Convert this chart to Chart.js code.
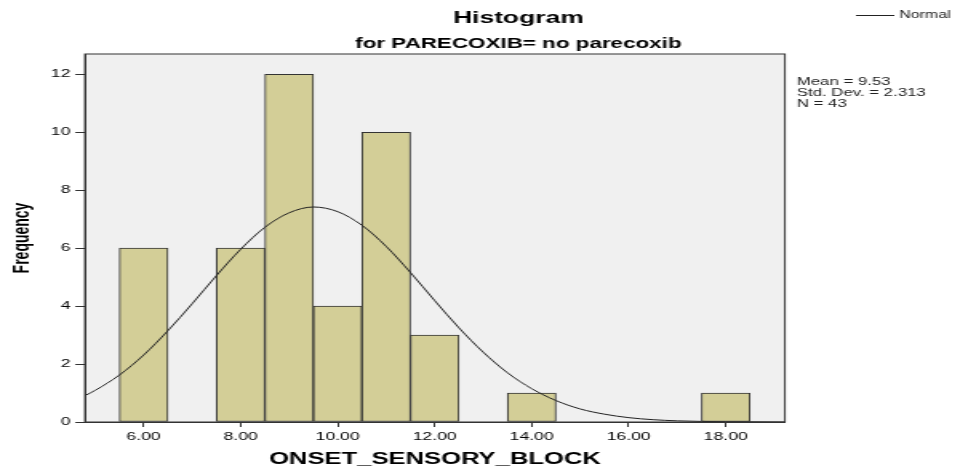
<!DOCTYPE html>
<html>
<head>
<meta charset="utf-8">
<script src="https://cdn.jsdelivr.net/npm/chart.js@4.4.1/dist/chart.umd.min.js"></script>
<style>
  html, body { margin: 0; padding: 0; background: #fff; overflow: hidden; }
  /* the original SPSS picture is stretched sideways, so draw narrow and stretch */
  #wrap { width: 600px; height: 473px; transform: scaleX(1.6); transform-origin: 0 0; }
</style>
</head>
<body>
<div id="wrap"><canvas id="histChart"></canvas></div>
<script>
// histogram bins (width 1), only the non-empty ones
const binCenters = [6, 8, 9, 10, 11, 12, 14, 18];
const binCounts = [6, 6, 12, 4, 10, 3, 1, 1];

// normal curve, values
const curveX = [4.79, 5, 5.5, 6, 6.5, 7, 7.5, 8, 8.5, 9, 9.5, 10, 10.5, 11, 11.5, 12, 12.5, 13, 13.5, 14, 14.5, 15, 15.5, 16, 16.5, 17, 17.5, 18, 19.22];
const curveY = [0.91, 1.09, 1.62, 2.31, 3.15, 4.08, 5.05, 5.96, 6.72, 7.22, 7.42, 7.26, 6.79, 6.06, 5.16, 4.19, 3.25, 2.41, 1.7, 1.15, 0.74, 0.45, 0.27, 0.15, 0.08, 0.04, 0.02, 0.01, 0];

const xTicks = [6, 8, 10, 12, 14, 16, 18];
const yTicks = [0, 2, 4, 6, 8, 10, 12];

const statLines = ["Mean = 9.53", "Std. Dev. = 2.313", "N = 43"];

const FONT = "'Liberation Sans', Arial, sans-serif";

const frame = {
  id: 'frame',
  beforeDraw(chart) {
    const { ctx, chartArea: a } = chart;
    ctx.save();
    ctx.fillStyle = '#f0f0f0';
    ctx.fillRect(a.left, a.top, a.right - a.left, a.bottom - a.top);
    ctx.restore();
  },
  afterDraw(chart) {
    const { ctx, chartArea: a } = chart;
    ctx.save();
    ctx.strokeStyle = '#333';
    ctx.lineWidth = 1;
    ctx.strokeRect(a.left, a.top, a.right - a.left, a.bottom - a.top);

    ctx.fillStyle = '#000';
    ctx.textAlign = 'center';
    ctx.textBaseline = 'alphabetic';
    ctx.font = "bold 16.5px " + FONT;
    ctx.fillText("Histogram", 324, 23);
    ctx.font = "bold 14px " + FONT;
    ctx.fillText("for PARECOXIB= no parecoxib", 324, 48);

    // legend
    ctx.strokeStyle = '#222';
    ctx.beginPath();
    ctx.moveTo(535, 15.5);
    ctx.lineTo(559, 15.5);
    ctx.stroke();
    ctx.textAlign = 'left';
    ctx.textBaseline = 'middle';
    ctx.font = "10px " + FONT;
    ctx.fillStyle = '#222';
    ctx.fillText("Normal", 562, 15.5);

    // stats box
    ctx.textBaseline = 'alphabetic';
    ctx.font = "10.5px " + FONT;
    statLines.forEach((t, i) => ctx.fillText(t, 498, 85 + i * 11));
    ctx.restore();
  }
};

const ctx = document.getElementById("histChart").getContext("2d");
new Chart(ctx, {
  type: "bar",
  data: {
    datasets: [
      {
        type: "line",
        label: "Normal",
        data: curveX.map((x, i) => ({ x: x, y: curveY[i] })),
        borderColor: "#222",
        borderWidth: 1,
        pointRadius: 0,
        fill: false,
        cubicInterpolationMode: "monotone",
        order: 0,
      },
      {
        type: "bar",
        label: "Frequency",
        data: binCenters.map((x, i) => ({ x: x, y: binCounts[i] })),
        backgroundColor: "#d3ce97",
        borderColor: "#333",
        borderWidth: 1,
        borderSkipped: false,
        barPercentage: 1,
        categoryPercentage: 1,
        order: 1,
      },
    ],
  },
  options: {
    responsive: true,
    maintainAspectRatio: false,
    animation: false,
    devicePixelRatio: 1,
    layout: { padding: { left: 0, right: 109.4, top: 54, bottom: 0 } },
    plugins: {
      legend: { display: false },
      tooltip: { enabled: false },
    },
    scales: {
      x: {
        type: "linear",
        min: 4.79,
        max: 19.22,
        offset: false,
        grid: { display: true, offset: false, drawOnChartArea: false, drawTicks: true, tickLength: 5, color: "#333" },
        border: { display: true, color: "#333", width: 1 },
        ticks: {
          color: "#000",
          font: { family: FONT, size: 11 },
          padding: 3,
          maxRotation: 0,
          callback: (v) => Number(v).toFixed(2),
        },
        afterBuildTicks: (s) => { s.ticks = xTicks.map((v) => ({ value: v })); },
        afterFit: (s) => { s.height = 51; },
        title: {
          display: true,
          text: "ONSET_SENSORY_BLOCK",
          color: "#000",
          font: { family: FONT, size: 16, weight: "bold" },
          padding: { top: 0, bottom: 4 },
        },
      },
      y: {
        min: 0,
        max: 12.7,
        grid: { display: true, drawOnChartArea: false, drawTicks: true, tickLength: 6, color: "#333" },
        border: { display: true, color: "#333", width: 1 },
        ticks: {
          color: "#000",
          font: { family: FONT, size: 11 },
          padding: 3,
        },
        afterBuildTicks: (s) => { s.ticks = yTicks.map((v) => ({ value: v })); },
        afterFit: (s) => { s.width = 53.1; },
        title: {
          display: true,
          text: "Frequency",
          color: "#000",
          font: { family: FONT, size: 14, weight: "bold" },
          padding: { top: 6, bottom: 0 },
        },
      },
    },
  },
  plugins: [frame],
});
</script>
</body>
</html>
